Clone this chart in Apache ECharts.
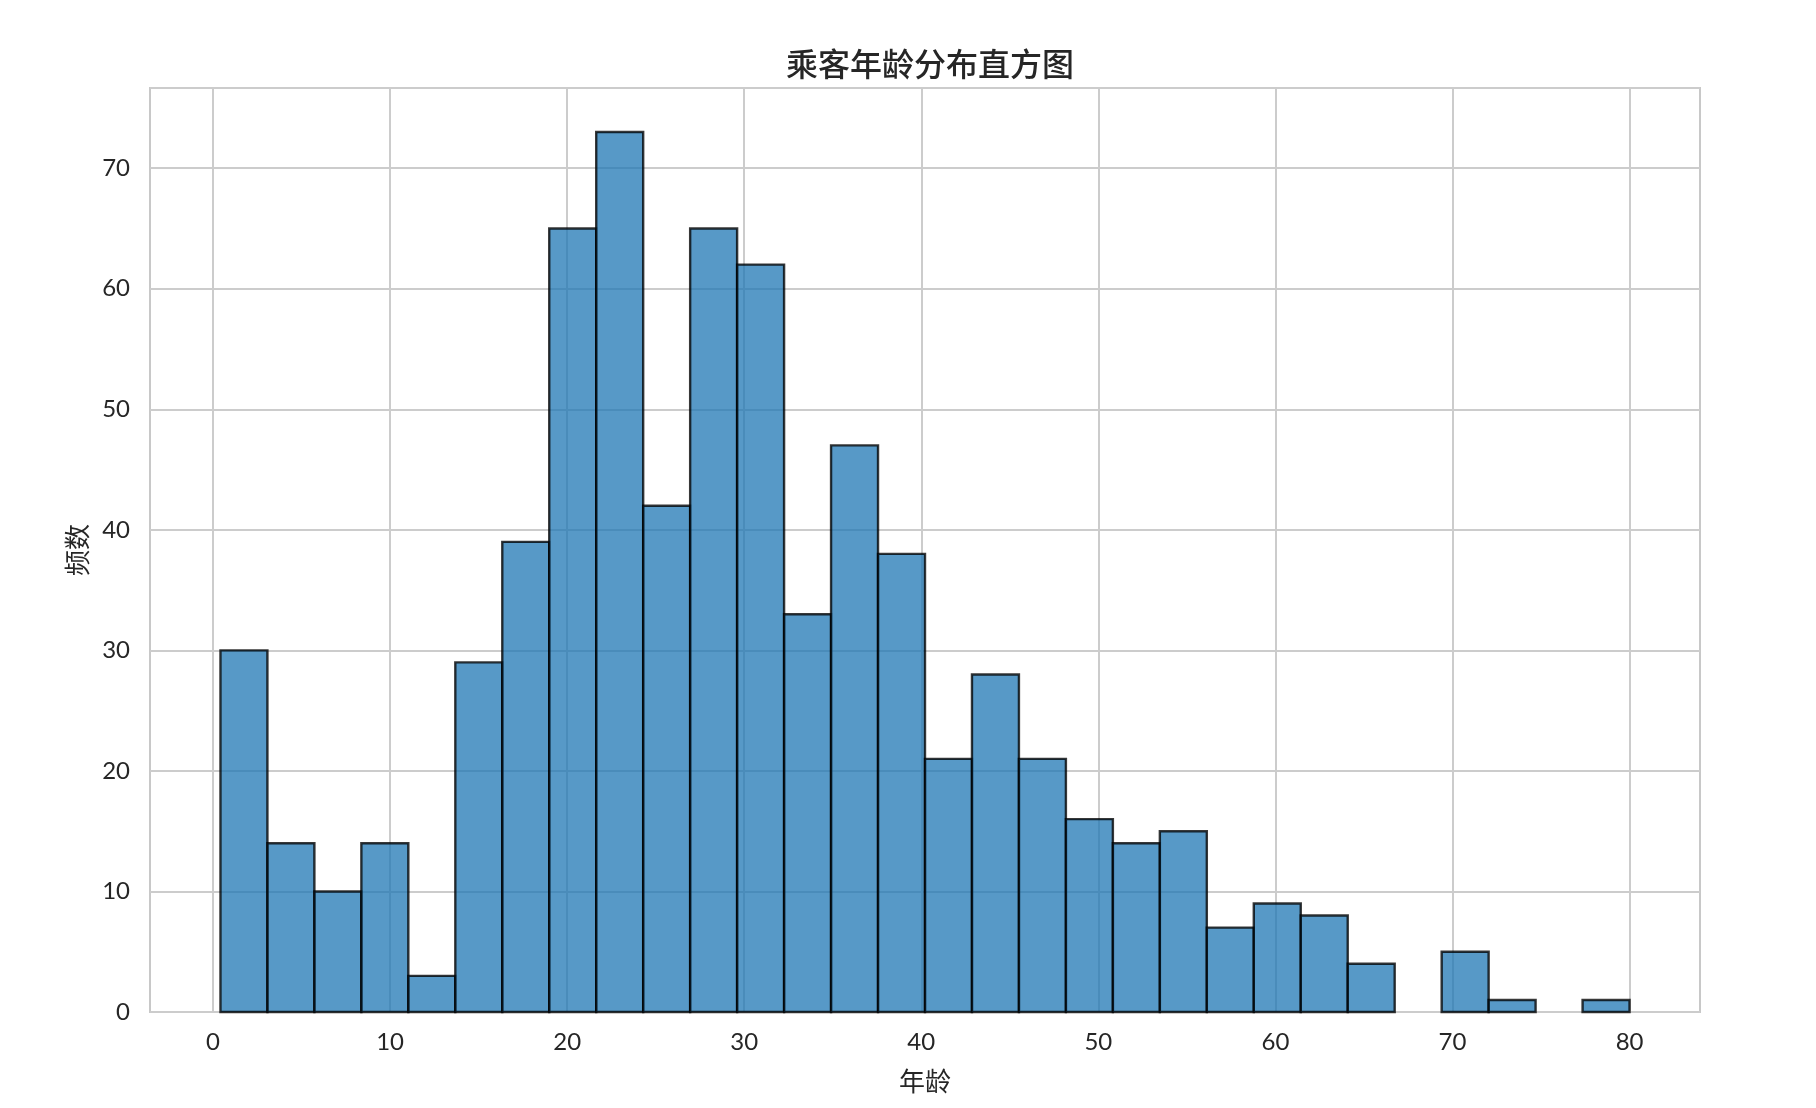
<!DOCTYPE html>
<html>
<head>
<meta charset="utf-8">
<script src="https://cdn.jsdelivr.net/npm/echarts@6/dist/echarts.min.js"></script>
<style>
html,body{margin:0;padding:0;background:#fff;}
#chart{width:1816px;height:1108px;}
</style>
</head>
<body>
<div id="chart"></div>
<script>
// Histogram of passenger ages (30 bins between min and max age)
const ageMin = 0.42;
const ageMax = 80;
const binCount = 30;
const counts = [30, 14, 10, 14, 3, 29, 39, 65, 73, 42, 65, 62, 33, 47, 38, 21, 28, 21, 16, 14, 15, 7, 9, 8, 4, 0, 5, 1, 0, 1];
const xTicks = [0, 10, 20, 30, 40, 50, 60, 70, 80];
const yTicks = [0, 10, 20, 30, 40, 50, 60, 70];
const titleText = '乘客年龄分布直方图';
const xName = '年龄';
const yName = '频数';

const binWidth = (ageMax - ageMin) / binCount;
const bins = counts.map((c, i) => [ageMin + i * binWidth, ageMin + (i + 1) * binWidth, c]);

const xPad = (ageMax - ageMin) * 0.05;
const xMin = ageMin - xPad;
const xMax = ageMax + xPad;
const yMax = Math.max(...counts) * 1.05;

const numFont = 'Lato, "Noto Sans", sans-serif';
const cjkFont = '"Noto Sans CJK SC", sans-serif';

const chart = echarts.init(document.getElementById('chart'), null, {renderer: 'canvas'});
chart.setOption({
  backgroundColor: '#ffffff',
  animation: false,
  title: {
    text: titleText,
    left: 925, top: 43, textAlign: 'center',
    textStyle: {fontFamily: cjkFont, fontSize: 32, fontWeight: 500, color: '#262626'}
  },
  grid: {
    left: 150, right: 116, top: 88, bottom: 96,
    show: true, borderColor: '#c8c8c8', borderWidth: 2, backgroundColor: 'transparent',
    containLabel: false
  },
  xAxis: {
    type: 'value', min: xMin, max: xMax,
    name: xName, nameLocation: 'middle', nameGap: 56,
    nameTextStyle: {fontFamily: cjkFont, fontSize: 26, color: '#262626'},
    axisLine: {show: false}, axisTick: {show: false},
    splitLine: {show: false},
    axisLabel: {customValues: xTicks, fontFamily: numFont, fontSize: 24, color: '#262626', margin: 18}
  },
  yAxis: {
    type: 'value', min: 0, max: yMax, interval: 10,
    name: yName, nameLocation: 'middle', nameGap: 60, nameRotate: 90,
    nameTextStyle: {fontFamily: cjkFont, fontSize: 26, color: '#262626'},
    axisLine: {show: false}, axisTick: {show: false},
    splitLine: {show: true, lineStyle: {color: '#cccccc', width: 2}},
    axisLabel: {customValues: yTicks, fontFamily: numFont, fontSize: 24, color: '#262626', margin: 20}
  },
  series: [
    {
      type: 'line', data: [], z: 1, silent: true,
      markLine: {
        silent: true, symbol: 'none', label: {show: false}, z: 1,
        lineStyle: {color: '#cccccc', width: 2, type: 'solid'},
        data: xTicks.map(v => ({xAxis: v}))
      }
    },
    {
      type: 'custom', z: 3,
      data: bins,
      encode: {x: [0, 1], y: 2},
      renderItem: function (params, api) {
        if (api.value(2) <= 0) return null;
        const p0 = api.coord([api.value(0), api.value(2)]);
        const p1 = api.coord([api.value(1), 0]);
        return {
          type: 'rect',
          shape: {x: p0[0], y: p0[1], width: p1[0] - p0[0], height: p1[1] - p0[1]},
          style: {fill: 'rgba(31,119,180,0.75)', stroke: 'rgba(0,0,0,0.78)', lineWidth: 2.4}
        };
      }
    }
  ]
});
</script>
</body>
</html>
